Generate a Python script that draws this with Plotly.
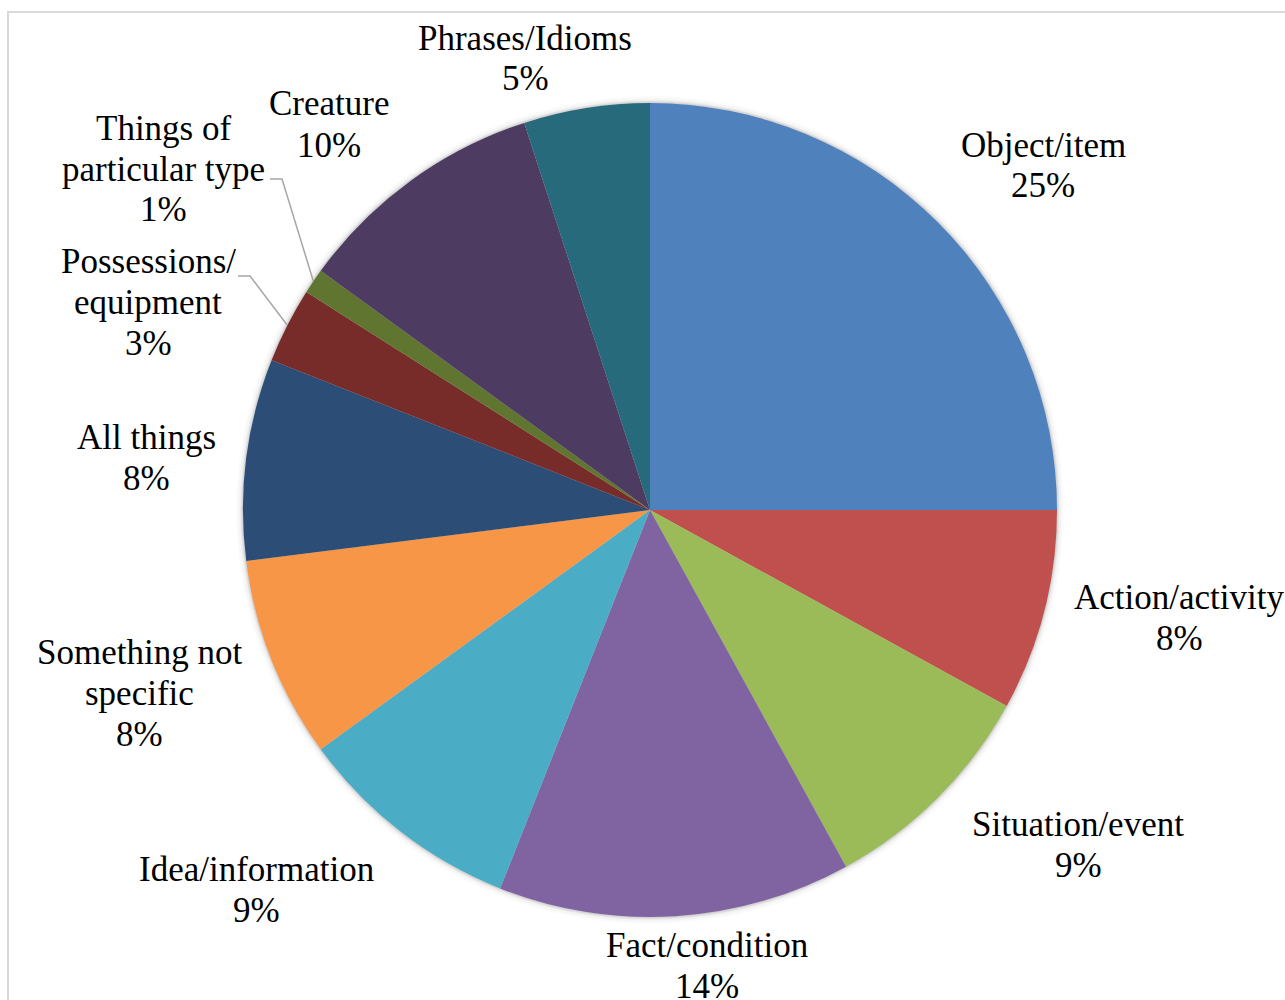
import math
import plotly.graph_objects as go

# ---- data -------------------------------------------------------------
categories = [
    "Object/item", "Action/activity", "Situation/event", "Fact/condition",
    "Idea/information", "Something not specific", "All things",
    "Possessions/equipment", "Things of particular type", "Creature",
    "Phrases/Idioms",
]
shares = [25, 8, 9, 14, 9, 8, 8, 3, 1, 10, 5]

# text lines used for each category label (percentage line is appended)
label_lines = [
    ["Object/item"], ["Action/activity"], ["Situation/event"], ["Fact/condition"],
    ["Idea/information"], ["Something not", "specific"], ["All things"],
    ["Possessions/", "equipment"], ["Things of", "particular type"], ["Creature"],
    ["Phrases/Idioms"],
]

colors = [
    "#4F81BD", "#C0504D", "#9BBB59", "#8064A2", "#4BACC6", "#F79646",
    "#2C4D75", "#772C2A", "#5F7530", "#4D3B62", "#276A7C",
]

# ---- layout geometry (pixels) ----------------------------------------
W, H = 1285, 1000
CX, CY, R = 650, 510, 407
FONT = "Liberation Serif, Times New Roman, serif"
FONT_SIZE = 35
LINE_STEP = 41

# centre of the first text line of every label block
label_pos = [
    (1043, 145), (1179, 597), (1078, 824), (707, 945), (256, 869),
    (139, 652), (146, 437), (148, 261), (163, 128), (329, 104), (525, 38),
]
# categories whose label is tied to its slice with a leader line,
# with the pixel point where the line leaves the text
leaders = {7: (238, 276), 8: (270, 179)}
LEADER_KNEE = 12


def px(x):
    return x / W


def py(y):
    return 1 - y / H


fig = go.Figure()

fig.add_trace(go.Pie(
    labels=categories,
    values=shares,
    sort=False,
    direction="clockwise",
    rotation=0,
    marker=dict(colors=colors, line=dict(width=0)),
    textinfo="none",
    hoverinfo="label+percent",
    showlegend=False,
    domain=dict(x=[px(CX - R), px(CX + R)], y=[py(CY + R), py(CY - R)]),
))

total = sum(shares)
annotations = []
for i, lines in enumerate(label_lines):
    pct = f"{shares[i] / total:.0%}"
    x0, y0 = label_pos[i]
    for k, txt in enumerate(lines + [pct]):
        annotations.append(dict(
            x=px(x0), y=py(y0 + k * LINE_STEP), xref="paper", yref="paper",
            text=txt, showarrow=False, xanchor="center", yanchor="middle",
            font=dict(family=FONT, size=FONT_SIZE, color="#000000"),
        ))

shapes = []
# soft outer shadow around the pie
for dr, a in [(7, 0.015), (5, 0.025), (3, 0.04), (2, 0.05), (1, 0.06)]:
    shapes.append(dict(
        type="circle", xref="paper", yref="paper", layer="below",
        x0=px(CX - R - dr), x1=px(CX + R + dr),
        y0=py(CY + R + dr), y1=py(CY - R - dr),
        fillcolor=f"rgba(0,0,0,{a})", line=dict(width=0),
    ))

# leader lines from label to the middle of their slice's outer edge
cum = 0
mids = []
for v in shares:
    mids.append((cum + v / 2) / total * 2 * math.pi)
    cum += v
for i, (lx, ly) in leaders.items():
    ang = mids[i]
    ex = CX + R * math.sin(ang)
    ey = CY - R * math.cos(ang)
    kx = lx + LEADER_KNEE
    path = f"M {px(lx)} {py(ly)} L {px(kx)} {py(ly)} L {px(ex)} {py(ey)}"
    shapes.append(dict(
        type="path", xref="paper", yref="paper", path=path,
        line=dict(color="#A6A6A6", width=1.5),
    ))

# chart-area frame
shapes.append(dict(
    type="rect", xref="paper", yref="paper", layer="below",
    x0=px(8), x1=px(W + 20), y0=py(H + 20), y1=py(12),
    line=dict(color="#D9D9D9", width=2), fillcolor="rgba(0,0,0,0)",
))

fig.update_layout(
    width=W, height=H,
    margin=dict(l=0, r=0, t=0, b=0),
    paper_bgcolor="#FFFFFF",
    plot_bgcolor="#FFFFFF",
    annotations=annotations,
    shapes=shapes,
)

fig.write_html("out.html")
